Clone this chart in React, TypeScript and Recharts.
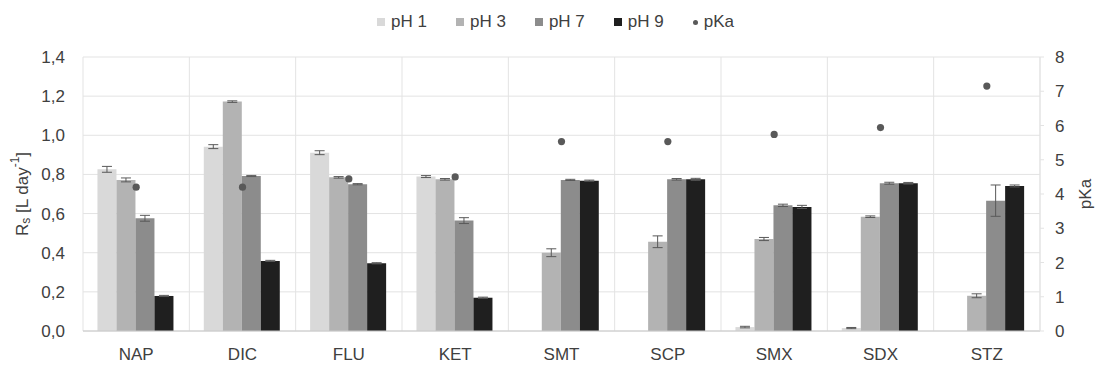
import React from 'react';
import { ComposedChart, Bar, Scatter, XAxis, YAxis, CartesianGrid, ErrorBar, Legend } from 'recharts';

const categories = ['NAP', 'DIC', 'FLU', 'KET', 'SMT', 'SCP', 'SMX', 'SDX', 'STZ'];
const ph1 = [0.826, 0.942, 0.911, 0.789, null, null, 0.02, 0.015, null];
const ph3 = [0.772, 1.172, 0.785, 0.775, 0.4, 0.456, 0.47, 0.584, 0.18];
const ph7 = [0.576, 0.792, 0.75, 0.564, 0.772, 0.775, 0.642, 0.755, 0.666];
const ph9 = [0.179, 0.358, 0.346, 0.17, 0.768, 0.775, 0.634, 0.755, 0.741];
const pKa = [4.2, 4.2, 4.44, 4.5, 5.53, 5.53, 5.74, 5.94, 7.15];
const err1 = [0.015, 0.01, 0.01, 0.005, null, null, 0.004, 0.003, null];
const err3 = [0.01, 0.004, 0.004, 0.004, 0.02, 0.03, 0.008, 0.004, 0.01];
const err7 = [0.015, 0.003, 0.003, 0.015, 0.003, 0.004, 0.006, 0.005, 0.08];
const err9 = [0.003, 0.003, 0.003, 0.003, 0.003, 0.005, 0.008, 0.004, 0.005];
const leftTicks = [0, 0.2, 0.4, 0.6, 0.8, 1.0, 1.2, 1.4];
const rightTicks = [0, 1, 2, 3, 4, 5, 6, 7, 8];
const seriesLabels = ['pH 1', 'pH 3', 'pH 7', 'pH 9', 'pKa'];

const colors = ['#d9d9d9', '#b3b3b3', '#8c8c8c', '#1f1f1f'];
const dotColor = '#595959';
const textColor = '#404040';
const FONT = '"Liberation Sans", Arial, sans-serif';

const data = categories.map((name, i) => ({
  name,
  ph1: ph1[i],
  ph3: ph3[i],
  ph7: ph7[i],
  ph9: ph9[i],
  pKa: pKa[i],
  e1: err1[i],
  e3: err3[i],
  e7: err7[i],
  e9: err9[i],
}));

const W = 1095;
const H = 365;

const renderLegend = () => (
  <div
    style={{
      display: 'flex',
      justifyContent: 'center',
      alignItems: 'center',
      paddingLeft: 16,
      fontFamily: FONT,
      fontSize: 17,
      color: textColor,
      gap: 29,
    }}
  >
    {seriesLabels.map((label, i) => (
      <div key={label} style={{ display: 'flex', alignItems: 'center' }}>
        {i < 4 ? (
          <span style={{ display: 'inline-block', width: 8, height: 8, background: colors[i], marginRight: 6 }} />
        ) : (
          <span style={{ display: 'inline-block', width: 5, height: 5, borderRadius: 3, background: dotColor, marginRight: 6 }} />
        )}
        <span>{label}</span>
      </div>
    ))}
  </div>
);

const verticalGen = ({ offset }: any) => {
  const n = categories.length;
  const out: number[] = [];
  for (let i = 0; i <= n; i++) out.push(offset.left + (i * offset.width) / n);
  return out;
};

const fmt = (v: number) => v.toFixed(1).replace('.', ',');

const dotShape = (props: any) => {
  const { cx, cy } = props;
  if (cx == null || cy == null) return null;
  return <circle cx={cx} cy={cy} r={3.6} fill={dotColor} />;
};

export default function App() {
  return (
    <div style={{ position: 'absolute', left: 0, top: 0, width: W, height: H, background: '#fff' }}>
      <ComposedChart
        width={W}
        height={H}
        data={data}
        margin={{ top: 57, right: 0, bottom: 0, left: 0 }}
        barCategoryGap="13.6%"
        barGap={0}
      >
        <CartesianGrid
          yAxisId="left"
          stroke="#e3e3e3"
          horizontal={true}
          vertical={true}
          verticalCoordinatesGenerator={verticalGen}
        />
        <XAxis
          dataKey="name"
          tickLine={false}
          axisLine={{ stroke: '#c8c8c8' }}
          tickSize={0}
          tickMargin={17}
          height={34}
          tick={{ fill: textColor, fontSize: 17, fontFamily: FONT }}
          interval={0}
        />
        <YAxis
          yAxisId="left"
          domain={[0, 1.4]}
          ticks={leftTicks}
          tickFormatter={fmt}
          width={83}
          axisLine={false}
          tickLine={false}
          tickSize={0}
          tickMargin={18}
          tick={{ fill: textColor, fontSize: 17, fontFamily: FONT }}
          allowDataOverflow
        />
        <YAxis
          yAxisId="right"
          orientation="right"
          domain={[0, 8]}
          ticks={rightTicks}
          width={55}
          axisLine={{ stroke: '#e3e3e3' }}
          tickLine={{ stroke: '#e3e3e3' }}
          tickSize={4}
          tickMargin={11}
          tick={{ fill: textColor, fontSize: 17, fontFamily: FONT }}
        />
        <Legend
          verticalAlign="middle"
          align="center"
          layout="horizontal"
          wrapperStyle={{ top: 12, left: 0, width: W }}
          content={renderLegend}
        />
        <Bar yAxisId="left" dataKey="ph1" name="pH 1" fill={colors[0]} isAnimationActive={false}>
          <ErrorBar dataKey="e1" width={5} stroke="#595959" strokeWidth={1} />
        </Bar>
        <Bar yAxisId="left" dataKey="ph3" name="pH 3" fill={colors[1]} isAnimationActive={false}>
          <ErrorBar dataKey="e3" width={5} stroke="#595959" strokeWidth={1} />
        </Bar>
        <Bar yAxisId="left" dataKey="ph7" name="pH 7" fill={colors[2]} isAnimationActive={false}>
          <ErrorBar dataKey="e7" width={5} stroke="#595959" strokeWidth={1} />
        </Bar>
        <Bar yAxisId="left" dataKey="ph9" name="pH 9" fill={colors[3]} isAnimationActive={false}>
          <ErrorBar dataKey="e9" width={5} stroke="#595959" strokeWidth={1} />
        </Bar>
        <Scatter yAxisId="right" dataKey="pKa" name="pKa" fill={dotColor} shape={dotShape} isAnimationActive={false} />
        <text
          x={22}
          y={194}
          transform="rotate(-90, 22, 194)"
          textAnchor="middle"
          dominantBaseline="central"
          fill={textColor}
          fontSize={17}
          fontFamily={FONT}
        >
          R<tspan dy={4} fontSize={12}>s</tspan>
          <tspan dy={-4}> [L day</tspan>
          <tspan dy={-7} fontSize={12}>-1</tspan>
          <tspan dy={7}>]</tspan>
        </text>
        <text
          x={1085}
          y={194}
          transform="rotate(-90, 1085, 194)"
          textAnchor="middle"
          dominantBaseline="central"
          fill={textColor}
          fontSize={17}
          fontFamily={FONT}
        >
          pKa
        </text>
      </ComposedChart>
    </div>
  );
}
